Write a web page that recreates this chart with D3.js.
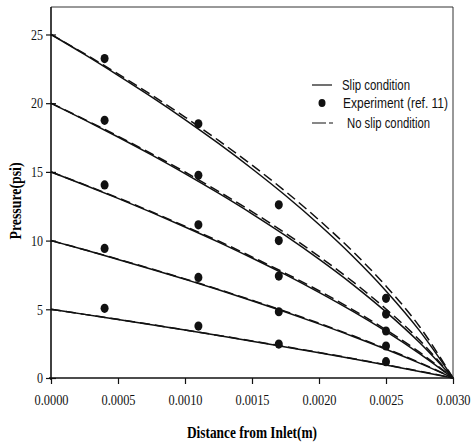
<!DOCTYPE html>
<html>
<head>
  <meta charset="utf-8">
  <title>Pressure vs distance from inlet</title>
  <script src="https://cdn.jsdelivr.net/npm/d3@7/dist/d3.min.js"></script>
  <style>
    body { margin: 0; background: #fff; }
    svg { display: block; }
  </style>
</head>
<body>
<svg width="472" height="444"></svg>

<script>
  // distances along channel (m) for the model curves
  var distance = [0, 0.00025, 0.0005, 0.00075, 0.001, 0.00125, 0.0015, 0.00175, 0.002, 0.00225, 0.0025, 0.00275, 0.003];

  // slip condition curves (psi), one per inlet pressure
  var slip25 = [25, 23.55, 22.03, 20.46, 18.81, 17.07, 15.23, 13.28, 11.17, 8.88, 6.34, 3.45, 0];
  var slip20 = [20, 18.79, 17.54, 16.24, 14.88, 13.45, 11.95, 10.36, 8.65, 6.82, 4.81, 2.58, 0];
  var slip15 = [15, 14.05, 13.07, 12.05, 10.99, 9.89, 8.73, 7.52, 6.23, 4.86, 3.39, 1.78, 0];
  var slip10 = [10, 9.33, 8.63, 7.92, 7.18, 6.42, 5.62, 4.80, 3.94, 3.04, 2.09, 1.08, 0];
  var slip5  = [5, 4.63, 4.26, 3.88, 3.49, 3.09, 2.68, 2.26, 1.84, 1.40, 0.94, 0.48, 0];

  // no slip condition curves (psi)
  var noSlip25 = [25, 23.60, 22.13, 20.60, 18.99, 17.29, 15.49, 13.58, 11.50, 9.23, 6.69, 3.75, 0];
  var noSlip20 = [20, 18.82, 17.60, 16.32, 14.99, 13.58, 12.11, 10.54, 8.85, 7.03, 5.02, 2.76, 0];
  var noSlip15 = [15, 14.07, 13.11, 12.10, 11.05, 9.97, 8.82, 7.62, 6.35, 4.98, 3.51, 1.88, 0];
  var noSlip10 = [10, 9.34, 8.65, 7.94, 7.21, 6.45, 5.66, 4.85, 3.99, 3.09, 2.14, 1.13, 0];
  var noSlip5  = [5, 4.63, 4.27, 3.89, 3.50, 3.10, 2.70, 2.28, 1.86, 1.42, 0.96, 0.50, 0];

  // experiment (ref. 11)
  var expDistance = [0.0004, 0.0011, 0.0017, 0.0025];
  var exp25 = [23.25, 18.5, 12.6, 5.8];
  var exp20 = [18.75, 14.75, 10.0, 4.65];
  var exp15 = [14.05, 11.15, 7.42, 3.42];
  var exp10 = [9.43, 7.32, 4.82, 2.33];
  var exp5  = [5.07, 3.78, 2.47, 1.19];

  var xTicks = [0, 0.0005, 0.001, 0.0015, 0.002, 0.0025, 0.003];
  var yTicks = [0, 5, 10, 15, 20, 25];

  var slipSeries = [slip25, slip20, slip15, slip10, slip5];
  var noSlipSeries = [noSlip25, noSlip20, noSlip15, noSlip10, noSlip5];
  var expSeries = [exp25, exp20, exp15, exp10, exp5];

  var svg = d3.select("svg");
  var plotL = 51, plotR = 453, plotT = 7, plotB = 378;

  var x = d3.scaleLinear().domain([0, 0.003]).range([plotL, plotR]);
  var y = d3.scaleLinear().domain([0, 27]).range([plotB, plotT]);

  // frame: top and right thin
  svg.append("line").attr("x1", plotL).attr("x2", plotR).attr("y1", plotT).attr("y2", plotT)
    .attr("stroke", "#333").attr("stroke-width", 1);
  svg.append("line").attr("x1", plotR).attr("x2", plotR).attr("y1", plotT).attr("y2", plotB)
    .attr("stroke", "#333").attr("stroke-width", 1);

  // axes
  var xAxis = svg.append("g").attr("transform", "translate(0," + plotB + ")")
    .call(d3.axisBottom(x).tickValues(xTicks).tickFormat(d3.format(".4f")).tickSize(6).tickPadding(10).tickSizeOuter(0));
  xAxis.select(".domain").remove();
  xAxis.selectAll(".tick line").attr("stroke", "#111").attr("stroke-width", 1.2);
  xAxis.selectAll(".tick text")
    .attr("font-family", "'Liberation Serif', serif").attr("font-size", 15).attr("fill", "#111")
    .attr("textLength", 34).attr("lengthAdjust", "spacingAndGlyphs");

  var yAxis = svg.append("g").attr("transform", "translate(" + plotL + ",0)")
    .call(d3.axisLeft(y).tickValues(yTicks).tickSize(5).tickPadding(3).tickSizeOuter(0));
  yAxis.select(".domain").remove();
  yAxis.selectAll(".tick line").attr("x1", 5).attr("stroke", "#111").attr("stroke-width", 1.2);
  yAxis.selectAll(".tick text")
    .attr("font-family", "'Liberation Serif', serif").attr("font-size", 15).attr("fill", "#111")
    .attr("textLength", function(d) { return String(d).length * 6; })
    .attr("lengthAdjust", "spacingAndGlyphs");

  svg.append("line").attr("x1", plotL).attr("x2", plotL).attr("y1", plotT).attr("y2", plotB + 2)
    .attr("stroke", "#111").attr("stroke-width", 1.6);
  svg.append("line").attr("x1", plotL - 2).attr("x2", plotR).attr("y1", plotB).attr("y2", plotB)
    .attr("stroke", "#111").attr("stroke-width", 1.6);

  // axis titles
  svg.append("text")
    .attr("x", (plotL + plotR) / 2).attr("y", 438)
    .attr("text-anchor", "middle")
    .attr("font-family", "'Liberation Serif', serif").attr("font-weight", "bold").attr("font-size", 17)
    .attr("textLength", 130).attr("lengthAdjust", "spacingAndGlyphs")
    .text("Distance from Inlet(m)");

  svg.append("text")
    .attr("transform", "translate(21,201) rotate(-90)")
    .attr("text-anchor", "middle")
    .attr("font-family", "'Liberation Serif', serif").attr("font-weight", "bold").attr("font-size", 16)
    .attr("textLength", 77).attr("lengthAdjust", "spacingAndGlyphs")
    .text("Pressure(psi)");

  var line = d3.line()
    .x(function(d) { return x(d[0]); })
    .y(function(d) { return y(d[1]); })
    .curve(d3.curveMonotoneX);

  // no slip (dashed) under slip (solid)
  noSlipSeries.forEach(function(s) {
    svg.append("path")
      .attr("d", line(distance.map(function(d, i) { return [d, s[i]]; })))
      .attr("fill", "none").attr("stroke", "#111").attr("stroke-width", 1.5)
      .attr("stroke-dasharray", "10,5");
  });
  slipSeries.forEach(function(s) {
    svg.append("path")
      .attr("d", line(distance.map(function(d, i) { return [d, s[i]]; })))
      .attr("fill", "none").attr("stroke", "#111").attr("stroke-width", 1.5);
  });

  // experiment points
  expSeries.forEach(function(s) {
    svg.selectAll(null)
      .data(expDistance.map(function(d, i) { return [d, s[i]]; }))
      .enter().append("ellipse")
      .attr("cx", function(d) { return x(d[0]); })
      .attr("cy", function(d) { return y(d[1]); })
      .attr("rx", 4).attr("ry", 4.6)
      .attr("fill", "#111");
  });

  // legend
  var legend = svg.append("g").attr("font-family", "'Liberation Sans', Arial, sans-serif").attr("font-size", 14).attr("fill", "#111");
  legend.append("line").attr("x1", 312).attr("x2", 332).attr("y1", 85).attr("y2", 85)
    .attr("stroke", "#111").attr("stroke-width", 1.2);
  legend.append("text").attr("x", 342).attr("y", 90)
    .attr("textLength", 68).attr("lengthAdjust", "spacingAndGlyphs").text("Slip condition");
  legend.append("ellipse").attr("cx", 322).attr("cy", 103).attr("rx", 3.5).attr("ry", 4).attr("fill", "#111");
  legend.append("text").attr("x", 343).attr("y", 108)
    .attr("textLength", 105).attr("lengthAdjust", "spacingAndGlyphs").text("Experiment (ref. 11)");
  legend.append("line").attr("x1", 312).attr("x2", 334).attr("y1", 123).attr("y2", 123)
    .attr("stroke", "#111").attr("stroke-width", 1.2).attr("stroke-dasharray", "14,3,4,20");
  legend.append("text").attr("x", 347).attr("y", 128)
    .attr("textLength", 83).attr("lengthAdjust", "spacingAndGlyphs").text("No slip condition");
</script>
</body>
</html>
